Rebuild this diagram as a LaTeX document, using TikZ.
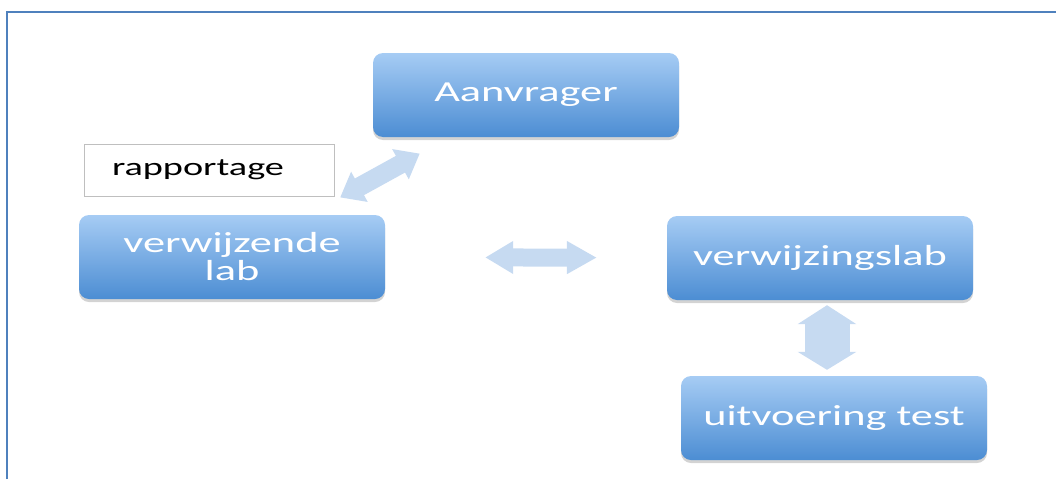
\documentclass[tikz,border=0pt]{standalone}
\usepackage{fontspec}
\usetikzlibrary{arrows.meta,shadows}
\newfontfamily\boxfont[FakeStretch=1.53]{Carlito}
\definecolor{boxtop}{HTML}{A6CCF4}
\definecolor{boxbot}{HTML}{4C8DD3}
\definecolor{arrowfill}{HTML}{C6DAF1}
\definecolor{framecol}{HTML}{4F81BD}
\definecolor{notedraw}{HTML}{BFBFBF}
\begin{document}
\begin{tikzpicture}[x=1pt, y=-1pt,
		box/.style={rounded corners=10pt, minimum width=306pt, minimum height=84pt, top color=boxtop, bottom color=boxbot, text=white, align=center, font=\boxfont\fontsize{29}{28}\selectfont, drop shadow={shadow xshift=0pt, shadow yshift=-3pt, opacity=0.35, fill=black!50}},
		note/.style={draw=notedraw, fill=white, minimum width=250pt, minimum height=52pt, inner xsep=28pt, text width=194pt, align=left, font=\boxfont\fontsize{25}{28}\selectfont},
		dblarrow/.style={draw=arrowfill}]
	\useasboundingbox (0,0) rectangle (1056,479);
	\draw[framecol, line width=2pt] (7,479) -- (7,12) -- (1056,12);

	\node[box] (aanvrager) at (526, 95) {Aanvrager};
	\node[note] (rapportage) at (209, 170) {rapportage};
	\node[box] (verwijzend) at (232, 257) {verwijzende\\lab};
	\node[box] (verwijzings) at (820, 258) {verwijzingslab};
	\node[box] (uitvoering) at (834, 418) {uitvoering test};

	\draw[dblarrow, line width=18pt, {Triangle[length=28pt, width=31pt]}-{Triangle[length=30pt, width=31pt]}, shorten <=100pt, shorten >=70pt] (verwijzend) -- (verwijzings);
	\draw[dblarrow, line width=19pt, {Triangle[length=22pt, width=33pt]}-{Triangle[length=22pt, width=33pt]}, shorten <=36pt, shorten >=34pt] (verwijzend) -- (aanvrager);
	\draw[dblarrow, line width=45pt, {Triangle[length=19pt, width=58pt]}-{Triangle[length=18pt, width=58pt]}, shorten <=5pt, shorten >=6pt] ([xshift=7pt]verwijzings.south) -- ([xshift=-7pt]uitvoering.north);
\end{tikzpicture}
\end{document}
